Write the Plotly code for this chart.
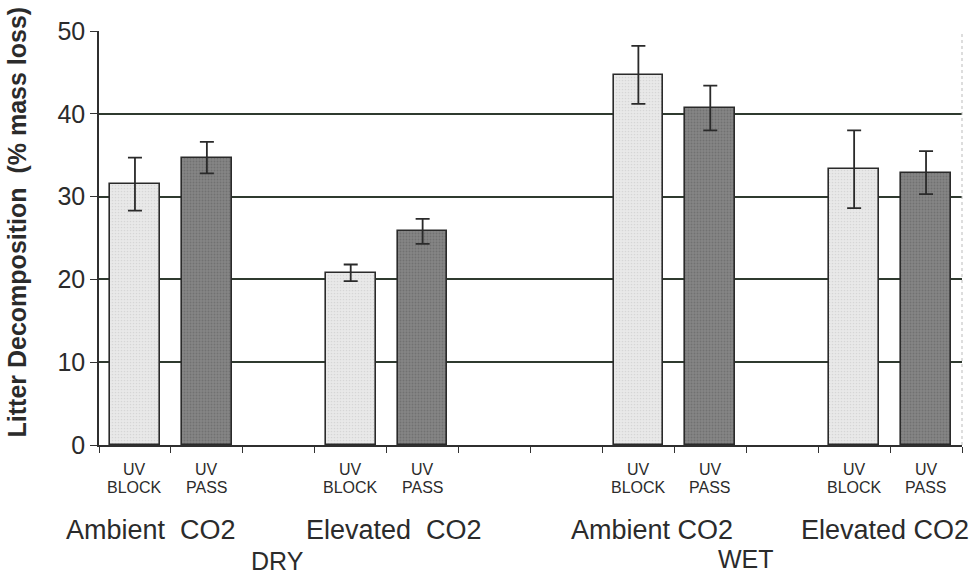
import plotly.graph_objects as go

# ---- data ----
moisture = ["DRY", "WET"]
co2 = ["Ambient  CO2", "Elevated  CO2"]
uv_top = ["UV", "UV"]
uv_bottom = ["BLOCK", "PASS"]

# order: DRY-Amb, DRY-Elev, WET-Amb, WET-Elev ; each [UV BLOCK, UV PASS]
uv_block_mean = [31.5, 20.8, 44.7, 33.3]
uv_block_err = [3.2, 1.0, 3.5, 4.7]
uv_pass_mean = [34.7, 25.8, 40.7, 32.9]
uv_pass_err = [1.9, 1.5, 2.7, 2.6]

y_ticks = [0, 10, 20, 30, 40, 50]

# slot layout: 12 category slots, pairs with gaps
def slot(group_idx, uv_idx):
    m, c = divmod(group_idx, 2)
    return 1 + uv_idx + 3 * c + 7 * m

block_x = [slot(g, 0) for g in range(4)]
pass_x = [slot(g, 1) for g in range(4)]

TXT = "#2b2b2b"
FONT = "Liberation Sans, Arial, sans-serif"

fig = go.Figure()
fig.add_bar(
    x=block_x, y=uv_block_mean, width=0.69,
    error_y=dict(type="data", array=uv_block_err, color="#2a2a2a", thickness=1.8, width=7),
    marker=dict(color="#e6e6e6", line=dict(color="#2a2a2a", width=1.6),
                pattern=dict(shape=".", size=3, solidity=0.25, fgcolor="#c4c4c4", bgcolor="#e9e9e9")),
    showlegend=False,
)
fig.add_bar(
    x=pass_x, y=uv_pass_mean, width=0.69,
    error_y=dict(type="data", array=uv_pass_err, color="#2a2a2a", thickness=1.8, width=7),
    marker=dict(color="#808080", line=dict(color="#2a2a2a", width=1.6),
                pattern=dict(shape=".", size=3, solidity=0.35, fgcolor="#5e5e5e", bgcolor="#858585")),
    showlegend=False,
)

ann = []
# UV labels under each bar
for xs, bottom in ((block_x, uv_bottom[0]), (pass_x, uv_bottom[1])):
    for xv in xs:
        ann.append(dict(x=xv, y=0, xref="x", yref="y", yshift=-24, text=uv_top[0],
                        showarrow=False, font=dict(size=16, color=TXT, family=FONT)))
        ann.append(dict(x=xv, y=0, xref="x", yref="y", yshift=-42, text=bottom,
                        showarrow=False, font=dict(size=16, color=TXT, family=FONT)))

# CO2 group labels
co2_x = [1.22, 4.6, 8.19, 11.43]
co2_text = [co2[0], co2[1], co2[0].replace("  ", " "), co2[1].replace("  ", " ")]
for xv, t in zip(co2_x, co2_text):
    ann.append(dict(x=xv, y=0, xref="x", yref="y", yshift=-85, text=t,
                    showarrow=False, font=dict(size=27, color=TXT, family=FONT)))
# moisture labels
for xv, t, ys in ((2.98, moisture[0], -116), (9.5, moisture[1], -114)):
    ann.append(dict(x=xv, y=0, xref="x", yref="y", yshift=ys, text=t,
                    showarrow=False, font=dict(size=25, color=TXT, family=FONT)))

# y-axis title
ann.append(dict(x=-0.114, y=0.539, xref="paper", yref="paper", text="<b>Litter Decomposition  (% mass loss)</b>",
                textangle=-90, showarrow=False, font=dict(size=25, color=TXT, family=FONT)))

fig.update_layout(
    width=972, height=576,
    margin=dict(l=99, r=10, t=31, b=131),
    paper_bgcolor="white", plot_bgcolor="white",
    bargap=0,
    annotations=ann,
    font=dict(family=FONT, color=TXT),
)
fig.update_xaxes(
    range=[0.5, 12.5], tickvals=[i + 0.5 for i in range(13)], ticktext=[""] * 13,
    ticks="outside", ticklen=6, tickcolor="#333333", tickwidth=1.2,
    showgrid=False, showline=True, linecolor="#2f2f2f", linewidth=1.6,
    mirror=False, zeroline=False,
)
fig.update_yaxes(
    range=[0, 50], tickvals=y_ticks, ticks="outside", ticklen=7, tickcolor="#333333", tickwidth=1.2,
    tickfont=dict(size=25, color=TXT, family=FONT),
    showgrid=True, gridcolor="#2f3a2f", gridwidth=1.6,
    showline=True, linecolor="#2f2f2f", linewidth=1.6, zeroline=False,
)
# faint right border
fig.add_shape(type="line", xref="paper", yref="paper", x0=1, x1=1, y0=0, y1=1,
              line=dict(color="#bbbbbb", width=1, dash="dot"))

fig.write_html("out.html")
